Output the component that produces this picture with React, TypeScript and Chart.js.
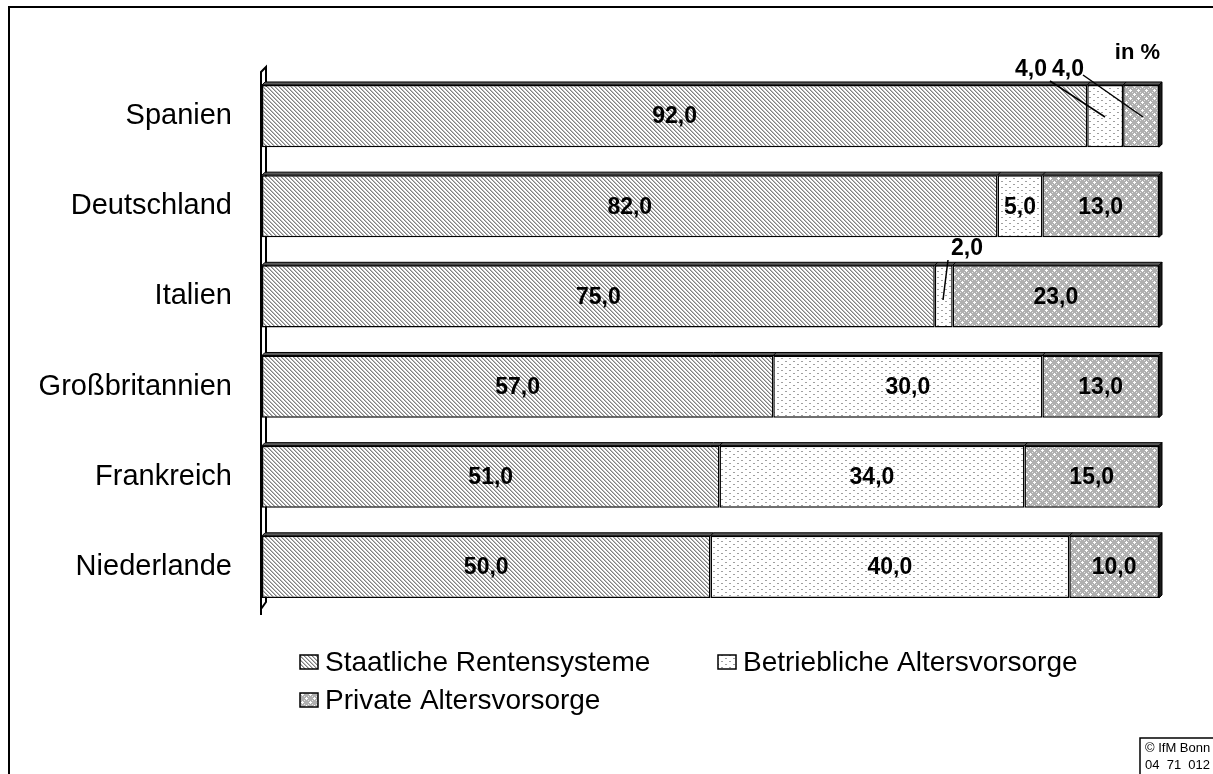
import React, { useEffect, useRef } from "react";
import { Chart, registerables } from "chart.js";

Chart.register(...registerables);

const categories = ["Spanien", "Deutschland", "Italien", "Großbritannien", "Frankreich", "Niederlande"];
const staatlich = [92, 82, 75, 57, 51, 50];
const betrieblich = [4, 5, 2, 30, 34, 40];
const privat = [4, 13, 23, 13, 15, 10];
const seriesLabels = ["Staatliche Rentensysteme", "Betriebliche Altersvorsorge", "Private Altersvorsorge"];
const unitLabel = "in %";
const copyright = ["© IfM Bonn", "04  71  012"];

const FONT = "'Liberation Sans', Arial, sans-serif";

function makePattern(kind: number): CanvasPattern | string {
  const c = document.createElement("canvas");
  const ctx = c.getContext("2d")!;
  if (kind === 0) {
    c.width = 4; c.height = 4;
    ctx.fillStyle = "#ffffff"; ctx.fillRect(0, 0, 4, 4);
    ctx.fillStyle = "#808080";
    for (let i = 0; i < 4; i++) ctx.fillRect(i, i, 1, 1);
    ctx.fillStyle = "#bdbdbd";
    for (let i = 0; i < 4; i++) ctx.fillRect((i + 1) % 4, i, 1, 1);
  } else if (kind === 1) {
    c.width = 8; c.height = 6;
    ctx.fillStyle = "#ffffff"; ctx.fillRect(0, 0, 8, 6);
    ctx.fillStyle = "#a0a0a0";
    ctx.fillRect(1, 1, 2, 1);
    ctx.fillRect(5, 4, 2, 1);
  } else {
    c.width = 8; c.height = 8;
    ctx.fillStyle = "#b0b0b0"; ctx.fillRect(0, 0, 8, 8);
    ctx.fillStyle = "#ffffff";
    const pts = [[2,1],[1,2],[2,2],[3,2],[2,3],[6,5],[5,6],[6,6],[7,6],[6,7]];
    for (const [x, y] of pts) ctx.fillRect(x, y, 1, 1);
    ctx.fillStyle = "#e4e4e4";
    const pts2 = [[0,0],[4,4],[4,0],[0,4]];
    for (const [x, y] of pts2) ctx.fillRect(x, y, 1, 1);
  }
  const p = ctx.createPattern(c, "repeat");
  return p || "#cccccc";
}

const fmt = (v: number) => v.toFixed(1).replace(".", ",");

export default function App() {
  const ref = useRef<HTMLCanvasElement | null>(null);
  useEffect(() => {
    document.body.style.margin = "0";
    const canvas = ref.current!;
    const patterns = [makePattern(0), makePattern(1), makePattern(2)];
    const D = 3;

    const decor = {
      id: "decor",
      beforeDatasetsDraw(chart: any) {
        const ctx = chart.ctx;
        const area = chart.chartArea;
        const x0 = chart.scales.x.getPixelForValue(0);
        ctx.save();
        ctx.strokeStyle = "#000";
        ctx.lineWidth = 2;
        ctx.beginPath();
        ctx.moveTo(x0 - 1, area.bottom + 3);
        ctx.lineTo(x0 - 1, area.top + 1);
        ctx.lineTo(x0 + 4, area.top - 4);
        ctx.lineTo(x0 + 4, area.bottom - 10);
        ctx.lineTo(x0 - 1, area.bottom - 3);
        ctx.stroke();
        ctx.restore();
      },
      afterDatasetsDraw(chart: any) {
        const ctx = chart.ctx;
        ctx.save();
        const metas = [0, 1, 2].map((i) => chart.getDatasetMeta(i));
        for (let j = 0; j < categories.length; j++) {
          const first = metas[0].data[j];
          const last = metas[2].data[j];
          const left = first.base;
          const right = last.x;
          const top = first.y - first.height / 2;
          const bottom = first.y + first.height / 2;
          ctx.lineWidth = 1;
          ctx.strokeStyle = "#000";
          ctx.fillStyle = "#5a5a5a";
          ctx.beginPath();
          ctx.moveTo(left, top);
          ctx.lineTo(left + D, top - D);
          ctx.lineTo(right + D, top - D);
          ctx.lineTo(right, top);
          ctx.closePath();
          ctx.fill();
          ctx.stroke();
          ctx.fillStyle = "#1a1a1a";
          ctx.beginPath();
          ctx.moveTo(right, top);
          ctx.lineTo(right + D, top - D);
          ctx.lineTo(right + D, bottom - D);
          ctx.lineTo(right, bottom);
          ctx.closePath();
          ctx.fill();
          ctx.stroke();
          for (let i = 0; i < 2; i++) {
            const el = metas[i].data[j];
            ctx.beginPath();
            ctx.moveTo(el.x, top);
            ctx.lineTo(el.x + D, top - D);
            ctx.stroke();
          }
        }
        ctx.fillStyle = "#000";
        ctx.font = `bold 23px ${FONT}`;
        ctx.textAlign = "center";
        ctx.textBaseline = "middle";
        const outside: Record<string, [number, number, number, number, number, number]> = {
          "1-0": [1031, 70, 1050, 81, 1105, 117],
          "2-0": [1068, 70, 1083, 75, 1143, 117],
          "1-2": [967, 249, 948, 260, 943, 300],
        };
        for (let i = 0; i < 3; i++) {
          const data = chart.data.datasets[i].data as number[];
          for (let j = 0; j < data.length; j++) {
            const el = metas[i].data[j];
            const o = outside[`${i}-${j}`];
            if (o) {
              ctx.fillText(fmt(data[j]), o[0], o[1]);
              ctx.lineWidth = 1.5;
              ctx.beginPath();
              ctx.moveTo(o[2], o[3]);
              ctx.lineTo(o[4], o[5]);
              ctx.stroke();
            } else {
              ctx.fillText(fmt(data[j]), (el.x + el.base) / 2, el.y + 1);
            }
          }
        }
        ctx.font = `bold 22px ${FONT}`;
        ctx.textAlign = "right";
        ctx.fillText(unitLabel, 1160, 53);
        const legendItems = [
          { x: 300, y: 662 },
          { x: 718, y: 662 },
          { x: 300, y: 700 },
        ];
        ctx.font = `28px ${FONT}`;
        ctx.textAlign = "left";
        legendItems.forEach((it, i) => {
          ctx.fillStyle = patterns[i] as any;
          ctx.fillRect(it.x, it.y - 7, 18, 14);
          ctx.lineWidth = 1.5;
          ctx.strokeStyle = "#000";
          ctx.strokeRect(it.x, it.y - 7, 18, 14);
          ctx.fillStyle = "#000";
          ctx.fillText(chart.data.datasets[i].label, it.x + 25, it.y + 1);
        });
        ctx.lineWidth = 2;
        ctx.strokeStyle = "#000";
        ctx.beginPath();
        ctx.moveTo(9, 774);
        ctx.lineTo(9, 7);
        ctx.lineTo(1213, 7);
        ctx.stroke();
        ctx.lineWidth = 1.5;
        ctx.beginPath();
        ctx.moveTo(1140, 774);
        ctx.lineTo(1140, 738);
        ctx.lineTo(1213, 738);
        ctx.stroke();
        ctx.font = `13px ${FONT}`;
        ctx.textAlign = "left";
        ctx.textBaseline = "middle";
        ctx.fillText(copyright[0], 1145, 748);
        ctx.fillText(copyright[1], 1145, 765);
        ctx.restore();
      },
    };

    const chart = new Chart(canvas, {
      type: "bar",
      data: {
        labels: categories,
        datasets: [staatlich, betrieblich, privat].map((d, i) => ({
          label: seriesLabels[i],
          data: d,
          backgroundColor: patterns[i] as any,
          borderColor: "#000",
          borderWidth: 1.5,
          borderSkipped: false,
          barPercentage: 0.69,
          categoryPercentage: 1,
        })),
      },
      options: {
        indexAxis: "y",
        animation: false,
        responsive: false,
        maintainAspectRatio: false,
        layout: { padding: { left: 0, right: 54, top: 71, bottom: 162 } },
        plugins: { legend: { display: false }, tooltip: { enabled: false } },
        scales: {
          x: { stacked: true, min: 0, max: 100, display: false },
          y: {
            stacked: true,
            grid: { display: false, drawTicks: false },
            border: { display: false },
            ticks: { color: "#000", padding: 30, font: { family: FONT, size: 29 } },
            afterFit: (s: any) => { s.width = 262; },
          },
        },
      },
      plugins: [decor],
    });
    return () => chart.destroy();
  }, []);
  return (
    <div style={{ position: "fixed", left: 0, top: 0, width: 1213, height: 774, background: "#fff" }}>
      <canvas ref={ref} width={1213} height={774} style={{ width: 1213, height: 774, display: "block" }} />
    </div>
  );
}
